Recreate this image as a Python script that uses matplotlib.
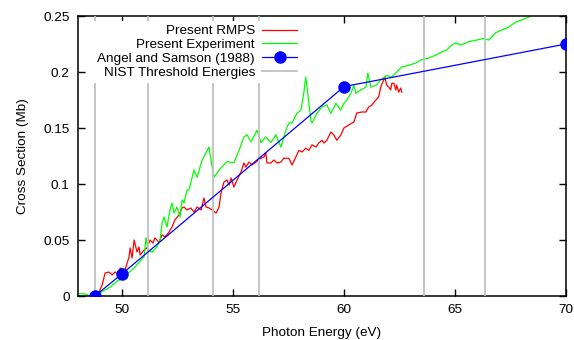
import numpy as np
import matplotlib
matplotlib.use("Agg")
import matplotlib.pyplot as plt

plt.rcParams['font.family'] = ['Liberation Sans', 'DejaVu Sans']
plt.rcParams['font.size'] = 9.7

# Present RMPS (red)
rmps_e = [48.86, 49.09, 49.22, 49.40, 49.54, 49.67, 49.85, 49.90, 50.12, 50.30,
          50.35, 50.44, 50.53, 50.66, 50.75, 50.80, 50.98, 51.11, 51.25, 51.38,
          51.47, 51.65, 51.79, 51.92, 52.10, 52.24, 52.37, 52.55, 52.69, 52.78,
          52.91, 53.09, 53.23, 53.37, 53.55, 53.68, 53.77, 53.91, 54.05, 54.23,
          54.36, 54.45, 54.58, 54.72, 54.81, 54.90, 55.03, 55.17, 55.35, 55.48,
          55.57, 55.71, 55.84, 56.02, 56.25, 56.38, 56.47, 56.52, 56.70, 56.83,
          56.97, 57.15, 57.28, 57.42, 57.51, 57.65, 57.82, 57.96, 58.10, 58.27,
          58.41, 58.55, 58.73, 58.86, 59.00, 59.09, 59.22, 59.40, 59.54, 59.67,
          59.85, 59.99, 60.21, 60.44, 60.57, 60.80, 60.98, 61.11, 61.25, 61.43,
          61.56, 61.65, 61.74, 61.83, 61.92, 62.01, 62.10, 62.15, 62.24, 62.33,
          62.37, 62.46, 62.55, 62.60]
rmps_cs = [0.0, 0.0098, 0.0205, 0.0214, 0.0188, 0.0214, 0.0188, 0.025, 0.0232, 0.0348,
           0.0429, 0.034, 0.050, 0.0393, 0.0438, 0.0366, 0.041, 0.0429, 0.050, 0.0473,
           0.0518, 0.048, 0.0545, 0.0527, 0.057, 0.0616, 0.068, 0.0723, 0.0786, 0.0795,
           0.0768, 0.0786, 0.075, 0.0795, 0.0768, 0.0875, 0.0795, 0.0786, 0.0768, 0.0741,
           0.0795, 0.092, 0.1018, 0.1036, 0.099, 0.1054, 0.0973, 0.1036, 0.1107, 0.1188,
           0.115, 0.1196, 0.117, 0.1196, 0.123, 0.124, 0.1277, 0.1188, 0.1188, 0.1214,
           0.1188, 0.1196, 0.123, 0.123, 0.123, 0.117, 0.124, 0.130, 0.1286, 0.132,
           0.130, 0.135, 0.133, 0.1366, 0.139, 0.1366, 0.139, 0.1464, 0.1437, 0.139,
           0.1437, 0.150, 0.1527, 0.1554, 0.1634, 0.1643, 0.1643, 0.1688, 0.1705, 0.175,
           0.1777, 0.1866, 0.191, 0.1955, 0.1884, 0.1866, 0.184, 0.190, 0.190, 0.184,
           0.1884, 0.182, 0.1857, 0.182]

# Present Experiment (green)
expt_e = [47.96, 48.28, 48.55, 48.86, 49.13, 49.45, 49.72, 49.99, 50.26, 50.53,
          50.75, 50.98, 51.07, 51.16, 51.34, 51.56, 51.70, 51.79, 51.88, 52.01,
          52.15, 52.24, 52.33, 52.46, 52.60, 52.69, 52.78, 52.91, 53.00, 53.23,
          53.37, 53.59, 53.77, 53.91, 54.00, 54.13, 54.36, 54.72, 55.03, 55.26,
          55.48, 55.62, 55.80, 56.07, 56.25, 56.47, 56.70, 56.92, 57.15, 57.37,
          57.51, 57.65, 57.87, 58.05, 58.18, 58.27, 58.36, 58.50, 58.55, 58.77,
          59.00, 59.22, 59.40, 59.63, 59.85, 59.99, 60.12, 60.30, 60.44, 60.53,
          60.75, 60.98, 61.07, 61.20, 61.43, 61.65, 61.79, 61.92, 62.15, 62.37,
          62.60, 62.91, 63.23, 63.50, 63.81, 64.13, 64.40, 64.62, 64.85, 65.03,
          65.25, 65.61, 65.97, 66.29, 66.51, 66.83, 67.10, 67.41, 67.73, 68.00,
          68.32, 68.55]
expt_cs = [0.002, 0.002, 0.0, 0.0, 0.0045, 0.008, 0.0125, 0.016, 0.0205, 0.025,
           0.030, 0.035, 0.052, 0.041, 0.039, 0.044, 0.050, 0.065, 0.0705, 0.0615,
           0.077, 0.083, 0.074, 0.0795, 0.0705, 0.0857, 0.083, 0.0946, 0.0946, 0.1125,
           0.106, 0.121, 0.128, 0.133, 0.121, 0.106, 0.1125, 0.120, 0.119, 0.130,
           0.142, 0.144, 0.1375, 0.148, 0.137, 0.142, 0.137, 0.144, 0.133, 0.148,
           0.1545, 0.1545, 0.163, 0.166, 0.181, 0.1955, 0.181, 0.157, 0.1545, 0.163,
           0.169, 0.1705, 0.163, 0.172, 0.166, 0.172, 0.175, 0.181, 0.188, 0.181,
           0.184, 0.1865, 0.199, 0.1865, 0.188, 0.193, 0.195, 0.197, 0.1955, 0.200,
           0.2045, 0.206, 0.208, 0.211, 0.2125, 0.215, 0.218, 0.2195, 0.224, 0.226,
           0.224, 0.227, 0.2285, 0.230, 0.2285, 0.235, 0.2375, 0.240, 0.2445, 0.2465,
           0.249, 0.2525]

# Angel and Samson (1988)
angel_e = [48.76, 50.0, 60.0, 70.0]
angel_cs = [0.0, 0.02, 0.187, 0.225]

# NIST threshold energies
nist_e = [48.75, 51.14, 54.07, 56.18, 63.6, 66.37]

fig = plt.figure(figsize=(5.74, 3.40), dpi=100)
ax = fig.add_axes([0.1359, 0.1294, 0.850, 0.8235])

ax.plot(rmps_e, rmps_cs, color='#ff0000', lw=0.9, label='Present RMPS', zorder=2)
ax.plot(expt_e, expt_cs, color='#00ff00', lw=0.9, label='Present Experiment', zorder=2)
ax.plot(angel_e, angel_cs, color='#0000ff', lw=0.9, marker='o', markersize=8,
        label='Angel and Samson (1988)', zorder=4)
for i, e in enumerate(nist_e):
    ax.axvline(e, color='#c0c0c0', lw=1.3, zorder=3,
               label='NIST Threshold Energies' if i == 0 else None)

ax.set_xlim(48, 70)
ax.set_ylim(0, 0.25)
ax.set_xticks([50, 55, 60, 65, 70])
ax.set_yticks([0, 0.05, 0.1, 0.15, 0.2, 0.25])
ax.set_yticklabels(['0', '0.05', '0.1', '0.15', '0.2', '0.25'])
ax.tick_params(direction='in', length=5, width=1, top=True, right=True, pad=6)
for s in ax.spines.values():
    s.set_linewidth(1.1)

ax.set_xlabel('Photon Energy (eV)', labelpad=8)
ax.set_ylabel('Cross Section (Mb)', labelpad=10)

leg = ax.legend(loc='upper right', bbox_to_anchor=(0.458, 0.983), markerfirst=False,
                handlelength=2.6, handletextpad=0.55, labelspacing=0.1,
                borderpad=0.3, borderaxespad=0, frameon=True, fancybox=False)
leg.get_frame().set_facecolor('white')
leg.get_frame().set_edgecolor('none')
leg.get_frame().set_alpha(1)
leg.set_zorder(10)

plt.savefig('out.png', dpi=100)
